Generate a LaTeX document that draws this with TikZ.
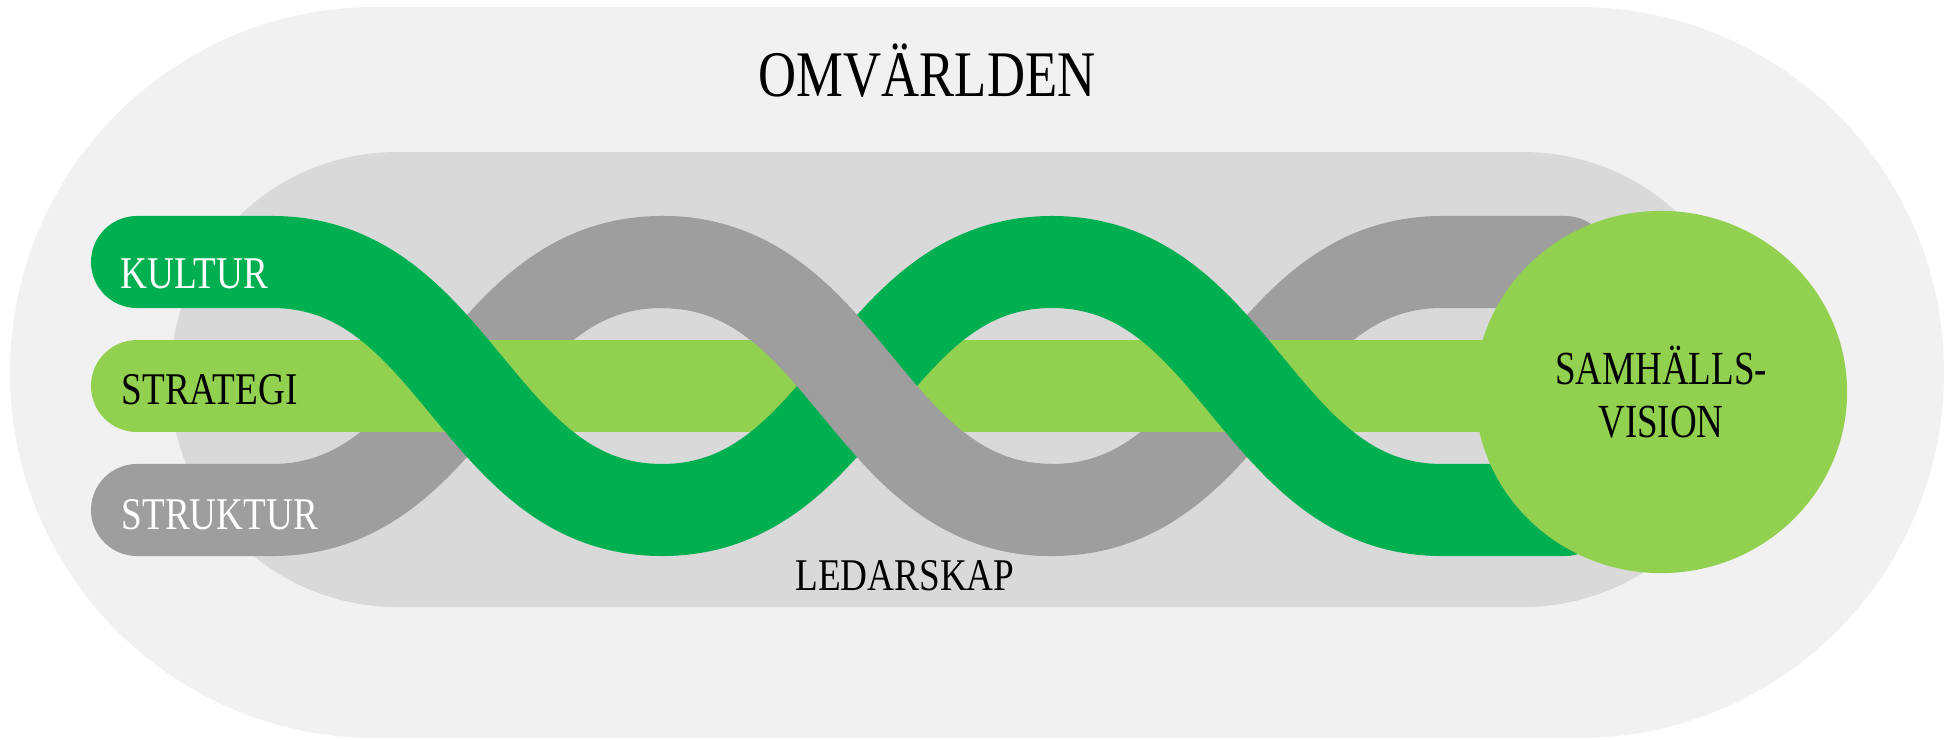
\documentclass[tikz,border=0pt]{standalone}
\usepackage{fontspec}
\setmainfont{Liberation Serif}
\usepackage{graphicx}
\usepackage{tikz}
\usetikzlibrary{shapes.geometric}
\usepackage{xcolor}

\definecolor{outerbg}{HTML}{F1F1F1}
\definecolor{innerbg}{HTML}{D9D9D9}
\definecolor{kgreen}{HTML}{00AF50}
\definecolor{lgreen}{HTML}{92D050}
\definecolor{sgray}{HTML}{9E9E9E}

\newcommand{\narrow}[2][0.82]{\scalebox{#1}[1]{#2}}

\tikzset{
    band/.style={line width=0.92cm, line cap=round},
    lbl/.style={font=\fontsize{12.9}{14}\selectfont, inner sep=0pt, anchor=base west},
    title/.style={inner sep=0pt, anchor=base}
}

\begin{document}
\begin{tikzpicture}[x=0.01cm, y=-0.01cm]
        \useasboundingbox (0,0) rectangle (1951,739);
        % background fields
        \fill[outerbg, rounded corners=3.65cm] (10,7) rectangle (1944,738);
        \fill[innerbg, rounded corners=2.27cm] (170,152) rectangle (1750,607);
        % the three bands
        \draw[band, sgray] (137,510) -- (272,510)
            .. controls +(185,0) and +(-185,0) .. (662,262)
            .. controls +(185,0) and +(-185,0) .. (1052,510)
            .. controls +(185,0) and +(-185,0) .. (1442,262) -- (1565,262);
        \draw[band, lgreen] (137,386) -- (1560,386);
        \draw[band, kgreen] (137,262) -- (272,262)
            .. controls +(185,0) and +(-185,0) .. (662,510)
            .. controls +(185,0) and +(-185,0) .. (1052,262)
            .. controls +(185,0) and +(-185,0) .. (1442,510) -- (1565,510);
        \draw[band, sgray, line cap=butt] (662,262)
            .. controls +(185,0) and +(-185,0) .. (1052,510);
        % vision
        \node[ellipse, fill=lgreen, inner sep=0pt, minimum width=3.72cm, minimum height=3.62cm,
              align=center, font=\fontsize{13.5}{15.1}\selectfont] (vision) at (1661,392)
              {\narrow[0.78]{SAMHÄLLS-}\\\narrow[0.78]{VISION}};
        % labels
        \node[lbl, white] (kultur) at (120,288) {\narrow{KULTUR}};
        \node[lbl] (strategi) at (121,404) {\narrow{STRATEGI}};
        \node[lbl, white] (struktur) at (121,529) {\narrow{STRUKTUR}};
        \node[title, font=\fontsize{18.5}{20}\selectfont] (omv) at (927,96) {\narrow[0.81]{OMVÄRLDEN}};
        \node[title, font=\fontsize{12.9}{14}\selectfont] (led) at (905,590) {\narrow{LEDARSKAP}};
    \end{tikzpicture}
\end{document}
